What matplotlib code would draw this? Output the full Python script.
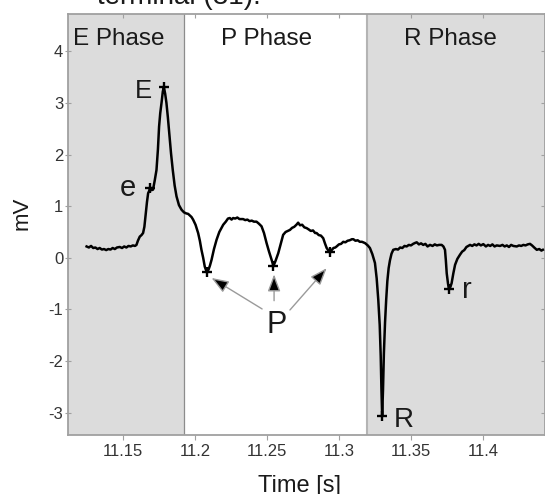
import matplotlib
matplotlib.use("Agg")
import matplotlib.pyplot as plt
import numpy as np

plt.rcParams['font.family'] = ['Liberation Sans', 'DejaVu Sans']
plt.rcParams['axes.unicode_minus'] = False

# ---- data ----
time_s = [
    11.1249, 11.1265, 11.1280, 11.1295, 11.1310, 11.1325, 11.1340, 11.1355, 11.1370, 11.1385,
    11.1400, 11.1415, 11.1430, 11.1445, 11.1460, 11.1479, 11.1495, 11.1510, 11.1525, 11.1540,
    11.1555, 11.1570, 11.1585, 11.1595, 11.1605, 11.1618, 11.1630, 11.1641, 11.1650, 11.1660,
    11.1668, 11.1676, 11.1684, 11.1690, 11.1700, 11.1710, 11.1722, 11.1734, 11.1744, 11.1752,
    11.1760, 11.1769, 11.1778, 11.1785, 11.1794, 11.1803, 11.1813, 11.1823, 11.1835, 11.1847,
    11.1860, 11.1873, 11.1890, 11.1908, 11.1925, 11.1940, 11.1954, 11.1965, 11.1977, 11.1988,
    11.2005, 11.2023, 11.2035, 11.2046, 11.2058, 11.2069, 11.2078, 11.2085, 11.2095, 11.2105,
    11.2116, 11.2133, 11.2151, 11.2170, 11.2197, 11.2215, 11.2230, 11.2243, 11.2255, 11.2266,
    11.2280, 11.2295, 11.2310, 11.2335, 11.2350, 11.2365, 11.2380, 11.2395, 11.2410, 11.2428,
    11.2445, 11.2463, 11.2480, 11.2498, 11.2515, 11.2533, 11.2546, 11.2560, 11.2579, 11.2596,
    11.2613, 11.2630, 11.2645, 11.2660, 11.2675, 11.2690, 11.2705, 11.2717, 11.2730, 11.2745,
    11.2760, 11.2776, 11.2790, 11.2805, 11.2820, 11.2835, 11.2845, 11.2860, 11.2875, 11.2891,
    11.2903, 11.2915, 11.2927, 11.2938, 11.2950, 11.2962, 11.2975, 11.2984, 11.3000, 11.3015,
    11.3030, 11.3045, 11.3060, 11.3075, 11.3090, 11.3100, 11.3115, 11.3130, 11.3145, 11.3160,
    11.3181, 11.3200, 11.3215, 11.3232, 11.3250, 11.3262, 11.3273, 11.3283, 11.3290, 11.3295,
    11.3300, 11.3306, 11.3312, 11.3320, 11.3328, 11.3336, 11.3345, 11.3354, 11.3365, 11.3377,
    11.3395, 11.3410, 11.3425, 11.3440, 11.3455, 11.3470, 11.3485, 11.3500, 11.3515, 11.3530,
    11.3540, 11.3555, 11.3570, 11.3585, 11.3600, 11.3615, 11.3632, 11.3650, 11.3665, 11.3680,
    11.3695, 11.3713, 11.3725, 11.3736, 11.3742, 11.3748, 11.3757, 11.3764, 11.3774, 11.3782,
    11.3794, 11.3806, 11.3822, 11.3840, 11.3855, 11.3870, 11.3885, 11.3898, 11.3910, 11.3925,
    11.3940, 11.3955, 11.3970, 11.3985, 11.4002, 11.4020, 11.4035, 11.4050, 11.4065, 11.4080,
    11.4095, 11.4118, 11.4135, 11.4150, 11.4165, 11.4180, 11.4195, 11.4210, 11.4234, 11.4250,
    11.4265, 11.4280, 11.4295, 11.4310, 11.4326, 11.4340, 11.4355, 11.4373, 11.4390, 11.4405,
    11.4415,
]
voltage_mv = [
    0.22, 0.20, 0.23, 0.19, 0.20, 0.17, 0.19, 0.16, 0.17, 0.15,
    0.17, 0.16, 0.19, 0.17, 0.20, 0.21, 0.19, 0.22, 0.20, 0.23,
    0.22, 0.24, 0.23, 0.25, 0.33, 0.41, 0.44, 0.48, 0.60, 0.865,
    1.08, 1.25, 1.30, 1.36, 1.31, 1.32, 1.50, 1.70, 2.10, 2.54,
    2.80, 3.00, 3.22, 3.30, 3.18, 3.00, 2.72, 2.41, 2.02, 1.70,
    1.40, 1.19, 1.02, 0.93, 0.88, 0.86, 0.85, 0.82, 0.79, 0.74,
    0.64, 0.48, 0.33, 0.155, 0.00, -0.17, -0.24, -0.265, -0.23, -0.15,
    -0.04, 0.17, 0.35, 0.50, 0.64, 0.70, 0.76, 0.77, 0.74, 0.77,
    0.76, 0.78, 0.75, 0.75, 0.73, 0.74, 0.71, 0.72, 0.70, 0.70,
    0.66, 0.61, 0.48, 0.285, 0.12, -0.04, -0.155, -0.06, 0.09, 0.27,
    0.445, 0.50, 0.52, 0.54, 0.58, 0.60, 0.64, 0.68, 0.63, 0.64,
    0.59, 0.575, 0.55, 0.52, 0.53, 0.48, 0.48, 0.44, 0.43, 0.38,
    0.28, 0.19, 0.14, 0.12, 0.15, 0.19, 0.20, 0.22, 0.26, 0.27,
    0.31, 0.30, 0.33, 0.34, 0.36, 0.36, 0.33, 0.34, 0.31, 0.31,
    0.285, 0.24, 0.19, 0.07, -0.10, -0.40, -0.81, -1.30, -1.90, -2.55,
    -3.06, -2.55, -1.85, -1.25, -0.81, -0.45, -0.20, -0.05, 0.08, 0.155,
    0.17, 0.16, 0.20, 0.19, 0.23, 0.22, 0.25, 0.24, 0.27, 0.29,
    0.30, 0.26, 0.28, 0.25, 0.27, 0.22, 0.25, 0.23, 0.26, 0.24,
    0.25, 0.25, 0.22, 0.155, -0.05, -0.30, -0.50, -0.61, -0.56, -0.49,
    -0.30, -0.135, -0.02, 0.06, 0.12, 0.15, 0.21, 0.23, 0.25, 0.23,
    0.26, 0.24, 0.27, 0.24, 0.265, 0.22, 0.25, 0.23, 0.26, 0.22,
    0.24, 0.23, 0.25, 0.22, 0.24, 0.21, 0.25, 0.23, 0.22, 0.24,
    0.23, 0.25, 0.24, 0.26, 0.27, 0.24, 0.20, 0.155, 0.17, 0.14,
    0.155,
]

# marked points
mark_labels = ["E", "e", "P1", "P2", "P3", "R", "r"]
mark_t = [11.1785, 11.1690, 11.2085, 11.2546, 11.2938, 11.3300, 11.3764]
mark_v = [3.30, 1.36, -0.265, -0.155, 0.12, -3.06, -0.61]

# phases
phase_names = ["E Phase", "P Phase", "R Phase"]
phase_bounds = [11.1120, 11.1924, 11.3193, 11.4430]

x_ticks = [11.15, 11.2, 11.25, 11.3, 11.35, 11.4]
x_tick_labels = ["11.15", "11.2", "11.25", "11.3", "11.35", "11.4"]
y_ticks = [-3, -2, -1, 0, 1, 2, 3, 4]

# ---- figure ----
fig = plt.figure(figsize=(5.45, 4.94), dpi=100)
ax = fig.add_axes([68 / 545, 59 / 494, 477 / 545, 421 / 494])

shade = "#dcdcdc"
ax.axvspan(phase_bounds[0], phase_bounds[1], color=shade, lw=0, zorder=0)
ax.axvspan(phase_bounds[2], phase_bounds[3], color=shade, lw=0, zorder=0)
ax.axvline(phase_bounds[1], color="#8c8c8c", lw=0.9, zorder=1)
ax.axvline(phase_bounds[2], color="#b4b4b4", lw=1.5, zorder=1)

ax.plot(time_s, voltage_mv, color="black", lw=1.8, zorder=3)
ax.plot(mark_t, mark_v, linestyle="none", marker="+", ms=7, mew=1.7,
        color="black", zorder=4)

ax.set_xlim(phase_bounds[0], phase_bounds[3])
ax.set_ylim(-3.43, 4.72)

# phase labels
phase_centers = [11.1472, 11.2498, 11.3772]
for name, cx in zip(phase_names, phase_centers):
    ax.text(cx, 4.124, name, ha="center", va="baseline", fontsize=17.5,
            color="#1a1a1a", zorder=5)

# point labels
ax.text(11.1700, 3.09, "E", ha="right", va="baseline", fontsize=18.5, color="#1a1a1a")
ax.text(11.1595, 1.20, "e", ha="right", va="baseline", fontsize=21, color="#1a1a1a")
ax.text(11.3380, -3.27, "R", ha="left", va="baseline", fontsize=20, color="#1a1a1a")
ax.text(11.3855, -0.78, "r", ha="left", va="baseline", fontsize=21, color="#1a1a1a")
ax.text(11.2566, -1.46, "P", ha="center", va="baseline", fontsize=22, color="#1a1a1a")

# arrows from P
arrow_tails = [(11.2467, -0.99), (11.2550, -0.83), (11.2660, -1.01)]
arrow_heads = [(11.2116, -0.39), (11.2550, -0.32), (11.2915, -0.20)]
for (tx, ty), (hx, hy) in zip(arrow_tails, arrow_heads):
    ax.annotate("", xy=(hx, hy), xytext=(tx, ty),
                arrowprops=dict(arrowstyle="-|>,head_length=0.8,head_width=0.3",
                                mutation_scale=13, ec="#9a9a9a", fc="black",
                                lw=1.0, shrinkA=0, shrinkB=0), zorder=5)

# axes styling
for sp in ax.spines.values():
    sp.set_color("#a0a0a0")
    sp.set_linewidth(1.3)

ax.set_xticks(x_ticks)
ax.set_xticklabels(x_tick_labels)
ax.set_yticks(y_ticks)
ax.tick_params(axis="x", direction="out", length=3.5, width=0.8, color="#a0a0a0",
               labelsize=12, labelcolor="#333333", pad=3)
ax.tick_params(axis="y", direction="inout", length=4, width=0.8, color="#a0a0a0",
               labelsize=12, labelcolor="#333333", pad=1.5)

top = ax.secondary_xaxis("top")
top.set_xticks(x_ticks)
top.tick_params(direction="in", length=3, width=0.8, color="#a0a0a0", labelsize=0)
top.set_xticklabels([])
top.spines["top"].set_visible(False)
right = ax.secondary_yaxis("right")
right.set_yticks(y_ticks)
right.tick_params(direction="in", length=3, width=0.8, color="#a0a0a0")
right.set_yticklabels([])
right.spines["right"].set_visible(False)

fig.text(22.5 / 545, 1 - 213.5 / 494, "mV", rotation=90, ha="center", va="center",
         fontsize=16, color="#1a1a1a")
fig.text(300 / 545, 1 - 492 / 494, "Time [s]", ha="center", va="baseline",
         fontsize=17, color="#1a1a1a")
fig.text(97 / 545, 1 - 4 / 494, "terminal (31).", ha="left", va="baseline",
         fontsize=20, color="#1a1a1a")

fig.savefig("out.png", dpi=100)
